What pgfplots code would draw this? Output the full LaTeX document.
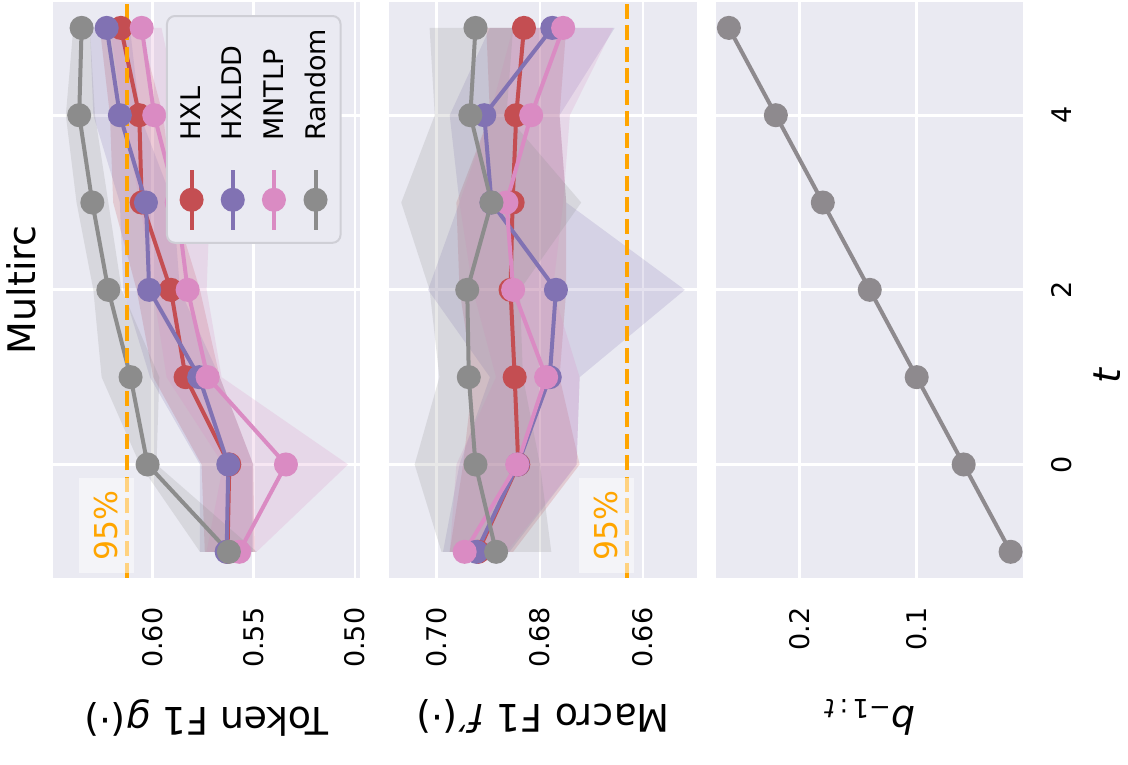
\documentclass[border=0pt]{standalone}
\usepackage{pgfplots}
\pgfplotsset{compat=1.18}
\usepackage{fontspec}
\setmainfont{DejaVu Sans}
\definecolor{bg}{HTML}{EAEAF2}
\definecolor{cHXL}{HTML}{C44E52}
\definecolor{cHXLDD}{HTML}{8172B3}
\definecolor{cMNTLP}{HTML}{DA8BC3}
\definecolor{cRand}{HTML}{8C8C8C}
\definecolor{cB}{HTML}{8E8A8E}
\definecolor{ora}{HTML}{FFA500}
\definecolor{legbd}{HTML}{CFCFD6}
\newcommand\tickfont{\fontsize{27}{32}\selectfont}
\newcommand\labfont{\fontsize{38}{45}\selectfont}
\tikzset{pct/.style={fill=white, fill opacity=0.5, text opacity=1, text=ora, font=\fontsize{31.5}{36}\selectfont, minimum width=95pt, minimum height=55pt, inner sep=0pt}}
\pgfplotsset{
  panel/.style={
    scale only axis, width=576.3pt, height=307.3pt,
    xmin=-1.3, xmax=5.3,
    axis background/.style={fill=bg},
    axis line style={draw=none},
    major tick length=0pt,
    grid=major, grid style={white, line width=2.7pt},
    xtick={0,2,4},
    tick label style={font=\tickfont},
    yticklabel style={inner sep=0pt, anchor=east, xshift=-29.5pt},
    xticklabel style={inner sep=0pt, anchor=north, yshift=-28.4pt},
    ylabel style={at={(axis description cs:-0.21,0.5)}, anchor=south, inner sep=0pt, font=\labfont},
  },
  ser/.style={color=#1, line width=4pt, mark=*, mark size=10pt, mark options={draw=none, fill=#1}},
  band/.style={draw=none, fill=#1, fill opacity=0.2, forget plot},
  ref/.style={ora, line width=4pt, dash pattern=on 15pt off 6.5pt, forget plot},
}
\begin{document}
\rotatebox{90}{%
\begin{tikzpicture}
\useasboundingbox (0,0) rectangle (765pt,1128pt);
% ---------------- Panel 1: Token F1
\begin{axis}[panel, at={(187pt,768pt)}, anchor=south west,
  ymin=0.4975, ymax=0.6494,
  ytick={0.50,0.55,0.60}, yticklabels={0.50,0.55,0.60},
  xticklabels={},
  ylabel={Token F1 \textit{g}(·)},
  title={Multirc},
  title style={at={(axis description cs:0.5,1.0358)}, anchor=base, inner sep=0pt, font=\labfont},
  legend style={at={(0.9769,0.6313)}, anchor=north east, fill=bg, draw=legbd,
    line width=2pt, rounded corners=8pt, inner xsep=11pt, inner ysep=12pt,
    row sep=16pt, font=\tickfont, cells={anchor=west}, /tikz/column sep=25pt},
  legend image code/.code={\draw[mark repeat=2, mark phase=2, #1] plot coordinates {(0pt,0pt) (30pt,0pt) (60pt,0pt)};},
]
\addplot[band=cHXL] coordinates {(-1,0.5742) (0,0.5758) (1,0.5997) (2,0.6079) (3,0.6195) (4,0.6211) (5,0.6261)
  (5,0.6063) (4,0.5948) (3,0.5898) (2,0.5766) (1,0.5668) (0,0.5503) (-1,0.5495)};
\addplot[band=cHXLDD] coordinates {(-1,0.5766) (0,0.5766) (1,0.6013) (2,0.6145) (3,0.6162) (4,0.6293) (5,0.6310)
  (5,0.6112) (4,0.6063) (3,0.5898) (2,0.5865) (1,0.5668) (0,0.5503) (-1,0.5503)};
\addplot[band=cMNTLP] coordinates {(-1,0.5733) (0,0.5651) (1,0.5931) (2,0.5997) (3,0.6063) (4,0.6145) (5,0.6211)
  (5,0.5956) (4,0.5865) (3,0.5717) (2,0.5733) (1,0.5659) (0,0.5034) (-1,0.5486)};
\addplot[band=cRand] coordinates {(-1,0.5766) (0,0.6063) (1,0.6252) (2,0.6293) (3,0.6376) (4,0.6429) (5,0.6392)
  (5,0.6310) (4,0.6285) (3,0.6219) (2,0.6153) (1,0.5967) (0,0.5981) (-1,0.5486)};
\addplot[ser=cHXL] coordinates {(-1,0.5630) (0,0.5621) (1,0.5837) (2,0.5910) (3,0.6054) (4,0.6066) (5,0.6157)};
\addlegendentry{HXL}
\addplot[ser=cHXLDD] coordinates {(-1,0.5634) (0,0.5626) (1,0.5770) (2,0.6017) (3,0.6033) (4,0.6162) (5,0.6227)};
\addlegendentry{HXLDD}
\addplot[ser=cMNTLP] coordinates {(-1,0.5572) (0,0.5341) (1,0.5728) (2,0.5827) (3,0.5881) (4,0.5992) (5,0.6054)};
\addlegendentry{MNTLP}
\addplot[ser=cRand] coordinates {(-1,0.5623) (0,0.6025) (1,0.6109) (2,0.6219) (3,0.6298) (4,0.6363) (5,0.6351)};
\addlegendentry{Random}
\addplot[ref] coordinates {(-1.3,0.6129) (5.3,0.6129)};
\node[pct] at (axis cs:-0.695,0.6228) {95\%};
\end{axis}
% ---------------- Panel 2: Macro F1
\begin{axis}[panel, at={(187pt,431.3pt)}, anchor=south west,
  ymin=0.6496, ymax=0.7092,
  ytick={0.66,0.68,0.70}, yticklabels={0.66,0.68,0.70},
  xticklabels={},
  ylabel={Macro F1 \textit{f}′(·)},
]
\addplot[band=cHXL] coordinates {(-1,0.6975) (0,0.6949) (1,0.6930) (2,0.6956) (3,0.6962) (4,0.6897) (5,0.6904)
  (5,0.6749) (4,0.6762) (3,0.6749) (2,0.6749) (1,0.6762) (0,0.6723) (-1,0.6852)};
\addplot[band=cHXLDD] coordinates {(-1,0.6988) (0,0.6956) (1,0.6897) (2,0.7017) (3,0.6956) (4,0.6975) (5,0.6897)
  (5,0.6655) (4,0.6762) (3,0.6749) (2,0.6519) (1,0.6723) (0,0.6729) (-1,0.6859)};
\addplot[band=cMNTLP] coordinates {(-1,0.6975) (0,0.6962) (1,0.6885) (2,0.6930) (3,0.6956) (4,0.6897) (5,0.6852)
  (5,0.6658) (4,0.6742) (3,0.6755) (2,0.6775) (1,0.6723) (0,0.6729) (-1,0.6865)};
\addplot[band=cRand] coordinates {(-1,0.6991) (0,0.7043) (1,0.6995) (2,0.7014) (3,0.7069) (4,0.7004) (5,0.7014)
  (5,0.6852) (4,0.6865) (3,0.6720) (2,0.6839) (1,0.6833) (0,0.6800) (-1,0.6778)};
\addplot[ser=cHXL] coordinates {(-1,0.6920) (0,0.6842) (1,0.6849) (2,0.6857) (3,0.6853) (4,0.6846) (5,0.6831)};
\addplot[ser=cHXLDD] coordinates {(-1,0.6923) (0,0.6843) (1,0.6781) (2,0.6769) (3,0.6894) (4,0.6908) (5,0.6776)};
\addplot[ser=cMNTLP] coordinates {(-1,0.6946) (0,0.6844) (1,0.6788) (2,0.6852) (3,0.6865) (4,0.6817) (5,0.6755)};
\addplot[ser=cRand] coordinates {(-1,0.6885) (0,0.6925) (1,0.6938) (2,0.6941) (3,0.6894) (4,0.6935) (5,0.6925)};
\addplot[ref] coordinates {(-1.3,0.6632) (5.3,0.6632)};
\node[pct] at (axis cs:-0.695,0.6671) {95\%};
\end{axis}
% ---------------- Panel 3: b
\begin{axis}[panel, at={(187pt,104.7pt)}, anchor=south west,
  ymin=0.0092, ymax=0.2710,
  ytick={0.1,0.2}, yticklabels={0.1,0.2},
  xticklabels={0,2,4},
  ylabel={\textit{b}\raisebox{-7pt}{\fontsize{26}{30}\selectfont −1\,:\,\textit{t}}},
  xlabel={\textit{t}},
  xlabel style={at={(axis description cs:0.352,-0.3147)}, anchor=base, inner sep=0pt, font=\labfont},
]
\addplot[ser=cB] coordinates {(-1,0.02) (0,0.06) (1,0.10) (2,0.14) (3,0.18) (4,0.22) (5,0.26)};
\end{axis}
\end{tikzpicture}}
\end{document}
